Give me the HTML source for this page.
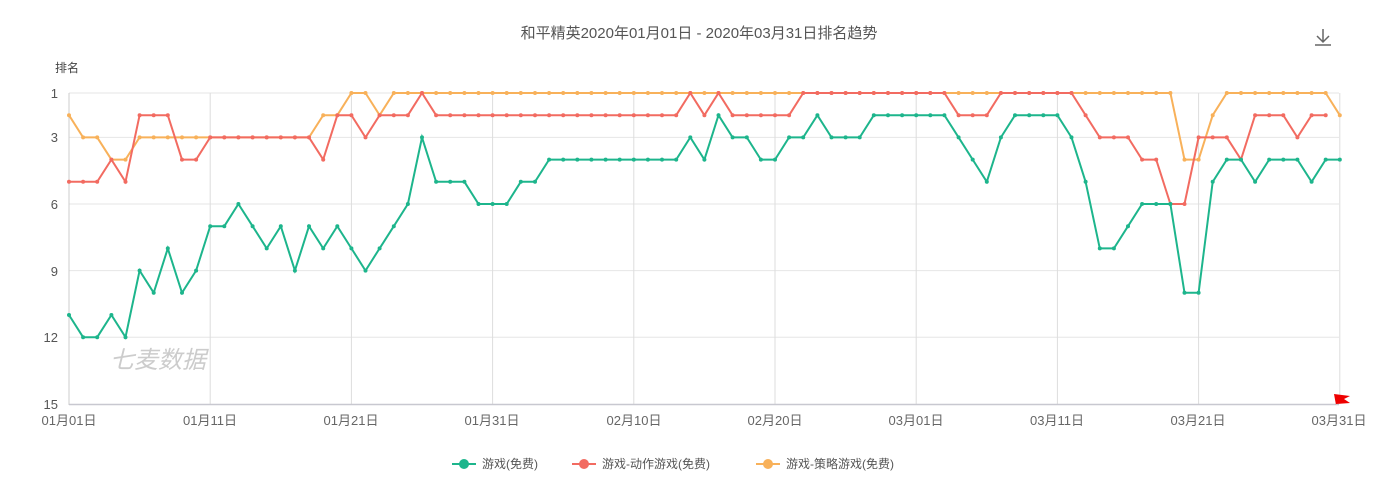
<!DOCTYPE html>
<html><head><meta charset="utf-8"><style>
body{margin:0;background:#fff;width:1399px;height:491px;overflow:hidden;font-family:"Liberation Sans","Noto Sans CJK SC",sans-serif}
svg text{font-family:"Liberation Sans","Noto Sans CJK SC",sans-serif}
</style></head><body>
<svg id="s" width="1399" height="491" xmlns="http://www.w3.org/2000/svg">
<text x="699" y="38" text-anchor="middle" font-size="15" fill="#555">和平精英2020年01月01日 - 2020年03月31日排名趋势</text>
<text x="55" y="72" font-size="12" fill="#444">排名</text>
<g stroke="#666" stroke-width="1.5" fill="none"><path d="M1323 29v12M1317 36l6 6 6-6M1315 45h16"/></g>
<text x="110" y="368" font-size="24" fill="#ccc" font-style="italic">七麦数据</text>
<g id="g"></g>
<g font-size="13" fill="#666" text-anchor="middle">
<text x="69" y="425">01月01日</text><text x="210" y="425">01月11日</text><text x="351" y="425">01月21日</text><text x="492" y="425">01月31日</text><text x="634" y="425">02月10日</text><text x="775" y="425">02月20日</text><text x="916" y="425">03月01日</text><text x="1057" y="425">03月11日</text><text x="1198" y="425">03月21日</text><text x="1339" y="425">03月31日</text>
</g>
<g font-size="13" fill="#555" text-anchor="end">
<text x="58" y="98">1</text><text x="58" y="142">3</text><text x="58" y="209">6</text><text x="58" y="276">9</text><text x="58" y="342">12</text><text x="58" y="409">15</text>
</g>
<path d="M1336 405l-2-11 16 2-6 3 6 4-14 1z" fill="#e00"/>
<g font-size="12" fill="#555">
<line x1="452" y1="464" x2="476" y2="464" stroke="#1db58c" stroke-width="2"/><circle cx="464" cy="464" r="5" fill="#1db58c"/><text x="482" y="468">游戏(免费)</text>
<line x1="572" y1="464" x2="596" y2="464" stroke="#f26b61" stroke-width="2"/><circle cx="584" cy="464" r="5" fill="#f26b61"/><text x="602" y="468">游戏-动作游戏(免费)</text>
<line x1="756" y1="464" x2="780" y2="464" stroke="#f8b15a" stroke-width="2"/><circle cx="768" cy="464" r="5" fill="#f8b15a"/><text x="786" y="468">游戏-策略游戏(免费)</text>
</g>
</svg>
<script>
var X=function(i){return 69+14.12*i},Y=function(r){return 93+22.2*(r-1)};
function rep(v,n){return Array(n).fill(v)}
var G=[11,12,12,11,12,9,10,8,10,9,7,7,6,7,8,7,9,7,8,7,8,9,8,7,6,3,5,5,5,6,6,6,5,5].concat(rep(4,10),[3,4,2,3,3,4,4,3,3,2,3,3,3],rep(2,6),[3,4,5,3,2,2,2,2,3,5,8,8,7,6,6,6,10,10,5,4,4,5,4,4,4,5,4,4]);
var R=[5,5,5,4,5,2,2,2,4,4].concat(rep(3,8),[4,2,2,3,2,2,2,1],rep(2,18),[1,2,1,2,2,2,2,2],rep(1,11),[2,2,2],rep(1,6),[2,3,3,3,4,4,6,6,3,3,3,4,2,2,2,3,2,2]);
var O=[2,3,3,4,4].concat(rep(3,13),[2,2,1,1,2],rep(1,56),[4,4,2],rep(1,8),[2]);
var s='';
for(var r of[1,3,6,9,12])s+='<line x1="69" x2="1339" y1="'+Y(r)+'" y2="'+Y(r)+'" stroke="#e6e6e6"/>';
for(var i=10;i<=90;i+=10)s+='<line x1="'+X(i)+'" x2="'+X(i)+'" y1="93" y2="404" stroke="#ddd"/>';
s+='<line x1="69" x2="69" y1="93" y2="405" stroke="#ccc"/><line x1="69" x2="1339" y1="404.5" y2="404.5" stroke="#c8c8d0" stroke-width="1.5"/>';
function ser(d,c){var p='';d.forEach(function(v,i){p+=(i?'L':'M')+X(i).toFixed(1)+' '+Y(v).toFixed(1)});
var t='<path d="'+p+'" fill="none" stroke="'+c+'" stroke-width="2"/>';
d.forEach(function(v,i){t+='<circle cx="'+X(i).toFixed(1)+'" cy="'+Y(v).toFixed(1)+'" r="2" fill="'+c+'"/>'});return t}
s+=ser(O,'#f8b15a')+ser(R,'#f26b61')+ser(G,'#1db58c');
document.getElementById('g').innerHTML=s;
</script>
</body></html>
